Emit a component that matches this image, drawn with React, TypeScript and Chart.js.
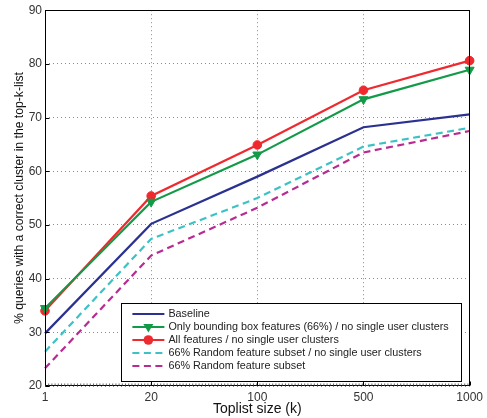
import React, { useEffect, useRef } from "react";
import { Chart, registerables } from "chart.js";

Chart.register(...registerables);

const categories = ["1", "20", "100", "500", "1000"];
const baseline = [29.8, 50.2, 59.0, 68.2, 70.6];
const boundingBox = [34.5, 54.3, 63.1, 73.4, 78.9];
const allFeatures = [34.0, 55.4, 64.9, 75.1, 80.6];
const randomNoSingle = [26.4, 47.4, 55.0, 64.6, 68.1];
const randomSubset = [23.3, 44.3, 53.2, 63.5, 67.5];
const yTicks = [20, 30, 40, 50, 60, 70, 80, 90];

const FONT = "'Liberation Sans', Arial, sans-serif";

const legendPlugin = {
  id: "boxLegend",
  afterDatasetsDraw(chart: any) {
    const { ctx, chartArea } = chart;
    const ds = chart.data.datasets;
    ctx.save();
    ctx.font = `10.8px ${FONT}`;
    let maxW = 0;
    ds.forEach((d: any) => {
      maxW = Math.max(maxW, ctx.measureText(d.label).width);
    });
    const rowH = 13;
    const padL = 11;
    const lineW = 32;
    const gap = 4;
    const boxW = padL + lineW + gap + maxW + 13;
    const boxH = 10.7 + rowH * (ds.length - 1) + 15;
    const right = chartArea.right - 8;
    const bottom = chartArea.bottom - 5;
    const left = right - boxW;
    const top = bottom - boxH;
    ctx.fillStyle = "#ffffff";
    ctx.fillRect(left, top, boxW, boxH);
    ctx.strokeStyle = "#000000";
    ctx.lineWidth = 1;
    ctx.strokeRect(Math.round(left) + 0.5, Math.round(top) + 0.5, Math.round(boxW), Math.round(boxH));
    ds.forEach((d: any, i: number) => {
      const y = top + 10.7 + rowH * i;
      const x0 = left + padL;
      ctx.strokeStyle = d.borderColor;
      ctx.lineWidth = 2;
      ctx.setLineDash(d.borderDash || []);
      ctx.beginPath();
      ctx.moveTo(x0, y);
      ctx.lineTo(x0 + lineW, y);
      ctx.stroke();
      ctx.setLineDash([]);
      if (d.pointRadius > 0) {
        ctx.fillStyle = d.borderColor;
        const cx = x0 + lineW / 2;
        if (d.pointStyle === "triangle") {
          const r = 5;
          ctx.beginPath();
          ctx.moveTo(cx - r, y - r * 0.6);
          ctx.lineTo(cx + r, y - r * 0.6);
          ctx.lineTo(cx, y + r * 1.1);
          ctx.closePath();
          ctx.fill();
        } else {
          ctx.beginPath();
          ctx.arc(cx, y, 4.8, 0, Math.PI * 2);
          ctx.fill();
        }
      }
      ctx.fillStyle = "#222222";
      ctx.textBaseline = "middle";
      ctx.textAlign = "left";
      ctx.fillText(d.label, x0 + lineW + gap, y + 0.5);
    });
    ctx.restore();
  },
};

const borderPlugin = {
  id: "plotBorder",
  afterDatasetsDraw(chart: any) {
    const { ctx, chartArea } = chart;
    ctx.save();
    ctx.strokeStyle = "#000000";
    ctx.lineWidth = 1;
    const l = Math.round(chartArea.left) + 0.5;
    const t = Math.round(chartArea.top) + 0.5;
    const r = Math.round(chartArea.right) - 0.5;
    const b = Math.round(chartArea.bottom) - 0.5;
    ctx.strokeRect(l, t, r - l, b - t);
    // minor ticks along the bottom axis
    ctx.strokeStyle = "#666666";
    for (let x = l; x < r; x += 3.2) {
      ctx.beginPath();
      ctx.moveTo(x, b);
      ctx.lineTo(x, b - 2);
      ctx.stroke();
    }
    // major ticks (inward)
    ctx.strokeStyle = "#000000";
    const xs = chart.scales.x;
    xs.ticks.forEach((_: any, i: number) => {
      const px = Math.round(xs.getPixelForTick(i)) + 0.5;
      ctx.beginPath();
      ctx.moveTo(px, b);
      ctx.lineTo(px, b - 4);
      ctx.stroke();
    });
    const ys = chart.scales.y;
    ys.ticks.forEach((tk: any) => {
      const py = Math.round(ys.getPixelForValue(tk.value)) + 0.5;
      ctx.beginPath();
      ctx.moveTo(l, py);
      ctx.lineTo(l + 4, py);
      ctx.stroke();
    });
    ctx.restore();
  },
};

export default function App() {
  const ref = useRef<HTMLCanvasElement | null>(null);
  useEffect(() => {
    document.body.style.margin = "0";
    const canvas = ref.current!;
    const mk = (label: string, data: number[], color: string, extra: any = {}) => ({
      label,
      data,
      borderColor: color,
      backgroundColor: color,
      borderWidth: 2.2,
      pointRadius: 0,
      pointHoverRadius: 0,
      pointBorderWidth: 1,
      tension: 0,
      ...extra,
    });
    const chart = new Chart(canvas, {
      type: "line",
      data: {
        labels: categories,
        datasets: [
          mk("Baseline", baseline, "#2b3190"),
          mk("Only bounding box features (66%) / no single user clusters", boundingBox, "#139a48", {
            pointStyle: "triangle",
            rotation: 180,
            pointRadius: 5.2,
          }),
          mk("All features / no single user clusters", allFeatures, "#ee2a2e", {
            pointStyle: "circle",
            pointRadius: 4.3,
          }),
          mk("66% Random feature subset / no single user clusters", randomNoSingle, "#3cc2c4", {
            borderDash: [7, 4.5],
          }),
          mk("66% Random feature subset", randomSubset, "#b82b92", {
            borderDash: [7, 4.5],
          }),
        ],
      },
      options: {
        animation: false,
        responsive: false,
        events: [],
        clip: false as any,
        layout: { padding: { left: 0, right: 14, top: 7, bottom: 0 } },
        plugins: {
          legend: { display: false },
          tooltip: { enabled: false },
        },
        scales: {
          x: {
            type: "category",
            offset: false,
            border: { display: false, dash: [1, 3] } as any,
            grid: {
              color: "#8a8a8a",
              lineWidth: 1,
              drawTicks: false,
            },
            ticks: {
              color: "#333333",
              font: { family: FONT, size: 12 },
              padding: 4,
              maxRotation: 0,
            },
            title: {
              display: true,
              text: "Toplist size (k)",
              color: "#111111",
              font: { family: FONT, size: 14 },
              padding: { top: 0, bottom: 0 },
            },
            afterFit(scale: any) {
              scale.height = 32;
            },
          },
          y: {
            min: 20,
            max: 90,
            border: { display: false, dash: [1, 3] } as any,
            grid: {
              color: "#8a8a8a",
              lineWidth: 1,
              drawTicks: false,
            },
            afterBuildTicks(scale: any) {
              scale.ticks = yTicks.map((v) => ({ value: v }));
            },
            ticks: {
              color: "#333333",
              font: { family: FONT, size: 12 },
              padding: 3,
            },
            title: {
              display: true,
              text: "% queries with a correct cluster in the top-k-list",
              color: "#111111",
              font: { family: FONT, size: 12.2 },
              padding: { top: 12, bottom: 0 },
            },
            afterFit(scale: any) {
              scale.width = 45;
            },
          },
        },
      },
      plugins: [borderPlugin, legendPlugin],
    });
    return () => chart.destroy();
  }, []);
  return (
    <div style={{ position: "absolute", left: 0, top: 0, width: 487, height: 418, background: "#fff" }}>
      <canvas ref={ref} width={487} height={418} style={{ display: "block" }} />
    </div>
  );
}
